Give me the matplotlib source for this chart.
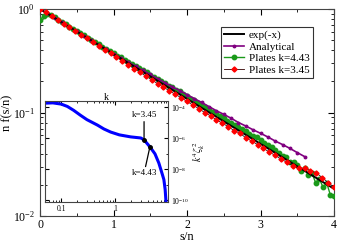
import numpy as np
import matplotlib
matplotlib.use("Agg")
import matplotlib.pyplot as plt
from matplotlib.ticker import LogLocator, NullFormatter, FixedLocator, MultipleLocator

plt.rcParams['font.family'] = ['Liberation Serif', 'DejaVu Serif']
plt.rcParams['mathtext.fontset'] = 'stix'

# ---- data: main panel ----
s_exp = np.linspace(0, 4, 200)

s_analytical = [0.0, 0.1, 0.2, 0.3, 0.4, 0.5, 0.6, 0.7, 0.8, 0.9, 1.0, 1.1, 1.2, 1.3, 1.4, 1.5,
                1.6, 1.7, 1.8, 1.9, 2.0, 2.1, 2.2, 2.3, 2.4, 2.5, 2.6, 2.7, 2.8, 2.9, 3.0, 3.1,
                3.2, 3.3, 3.4, 3.5, 3.6]
f_analytical = [1.0, 0.905, 0.819, 0.741, 0.670, 0.607, 0.549, 0.497, 0.450, 0.408, 0.370, 0.336,
                0.307, 0.280, 0.255, 0.233, 0.212, 0.194, 0.177, 0.163, 0.149, 0.136, 0.125, 0.114,
                0.104, 0.096, 0.088, 0.080, 0.074, 0.068, 0.063, 0.058, 0.053, 0.049, 0.045, 0.041,
                0.0375]

s_green = [0.00, 0.05, 0.10, 0.15, 0.20, 0.25, 0.30, 0.35, 0.40, 0.45, 0.50, 0.55, 0.60, 0.65,
           0.70, 0.75, 0.80, 0.85, 0.90, 0.95, 1.00, 1.05, 1.10, 1.15, 1.20, 1.25, 1.30, 1.35,
           1.40, 1.45, 1.50, 1.55, 1.60, 1.65, 1.70, 1.75, 1.80, 1.85, 1.90, 1.95, 2.00, 2.05,
           2.10, 2.15, 2.20, 2.25, 2.30, 2.35, 2.40, 2.45, 2.50, 2.55, 2.60, 2.65, 2.70, 2.75,
           2.80, 2.85, 2.90, 2.95, 3.00, 3.05, 3.10, 3.15, 3.20, 3.25, 3.30, 3.35, 3.40, 3.45,
           3.50, 3.55, 3.60, 3.65, 3.70, 3.75, 3.80, 3.85, 3.90, 3.95, 4.00]
f_green = [0.78, 0.86, 0.90, 0.87, 0.83, 0.78, 0.75, 0.71, 0.675, 0.64, 0.61, 0.58, 0.555, 0.525,
           0.50, 0.48, 0.455, 0.43, 0.41, 0.39, 0.375, 0.355, 0.34, 0.325, 0.31, 0.295, 0.28, 0.268,
           0.255, 0.245, 0.232, 0.222, 0.212, 0.20, 0.193, 0.182, 0.175, 0.165, 0.16, 0.15, 0.145,
           0.136, 0.131, 0.124, 0.119, 0.112, 0.108, 0.101, 0.098, 0.092, 0.088, 0.083, 0.080,
           0.075, 0.072, 0.069, 0.066, 0.062, 0.059, 0.058, 0.054, 0.051, 0.049, 0.046, 0.043,
           0.041, 0.038, 0.037, 0.033, 0.033, 0.031, 0.027, 0.029, 0.025, 0.026, 0.021, 0.023,
           0.019, 0.021, 0.016, 0.0155]

s_red = [0.00, 0.08, 0.16, 0.24, 0.32, 0.40, 0.48, 0.56, 0.64, 0.72, 0.80, 0.88, 0.96, 1.04,
         1.12, 1.20, 1.28, 1.36, 1.44, 1.52, 1.60, 1.68, 1.76, 1.84, 1.92, 2.00, 2.08, 2.16,
         2.24, 2.32, 2.40, 2.48, 2.56, 2.64, 2.72, 2.80, 2.88, 2.96, 3.04, 3.12, 3.20, 3.28,
         3.36, 3.44, 3.52, 3.60, 3.68, 3.76, 3.84, 3.92, 4.00]
f_red = [1.00, 0.93, 0.85, 0.78, 0.72, 0.665, 0.61, 0.565, 0.52, 0.48, 0.44, 0.405, 0.375, 0.345,
         0.315, 0.29, 0.265, 0.245, 0.225, 0.207, 0.19, 0.176, 0.162, 0.150, 0.139, 0.128, 0.118,
         0.109, 0.100, 0.093, 0.085, 0.079, 0.073, 0.067, 0.063, 0.057, 0.053, 0.049, 0.045,
         0.0415, 0.0385, 0.0355, 0.033, 0.0305, 0.029, 0.029, 0.0275, 0.026, 0.0235, 0.021, 0.019]

# ---- data: inset ----
k_inset = [0.05, 0.07, 0.10, 0.13, 0.17, 0.226, 0.30, 0.47, 0.62, 0.83, 1.2, 1.95, 3.0, 3.45,
           4.43, 5.5, 6.5, 7.5, 8.05, 8.5, 8.8]
logS_inset = [-3.74, -3.72, -3.80, -3.95, -4.2, -4.51, -4.80, -5.15, -5.40, -5.60, -5.78, -5.91,
              -5.98, -6.1, -6.55, -7.0, -7.6, -8.3, -8.66, -9.3, -10.06]
S_inset = [10.0 ** v for v in logS_inset]
k_marks = [3.45, 4.43]
S_marks = [10.0 ** -6.1, 10.0 ** -6.55]
mark_labels = ["k=3.45", "k=4.43"]

W, H = 339, 242
fig = plt.figure(figsize=(W / 100, H / 100), dpi=100)
ax = fig.add_axes([40 / W, 1 - 216 / H, 294 / W, 207 / H])

ax.plot(s_exp, np.exp(-s_exp), color='black', lw=1.4, label='exp(-x)', zorder=5)
ax.plot(s_analytical, f_analytical, color='#800080', lw=1.2, marker='o', ms=1.8,
        label='Analytical', zorder=4)
ax.plot(s_green, f_green, color='#1a9a1a', lw=1.0, marker='o', ms=3.2,
        label='Plates k=4.43', zorder=3)
ax.plot(s_red, f_red, color='#330000', lw=0.6, marker='D', ms=2.6, mfc='red', mec='red',
        label='Plates k=3.45', zorder=6)

ax.set_yscale('log')
ax.set_xlim(0, 4)
ax.set_ylim(0.01, 1)
ax.xaxis.set_major_locator(MultipleLocator(1))
ax.xaxis.set_minor_locator(MultipleLocator(0.5))
ax.tick_params(which='both', direction='in', top=True, right=True, labelsize=8.5)
ax.tick_params(axis='x', pad=2)
ax.tick_params(which='major', length=4)
ax.tick_params(which='minor', length=2)
ax.set_xlabel('s/n', fontsize=9)
ax.xaxis.set_label_coords(0.5, -0.074)
ax.set_ylabel('n f(s/n)', fontsize=9, labelpad=0)
for sp in ax.spines.values():
    sp.set_color('#444444')

leg = ax.legend(loc='upper right', bbox_to_anchor=(313 / W, 1 - 27 / H),
                bbox_transform=fig.transFigure, fontsize=8, frameon=True, fancybox=False,
                edgecolor='black', handlelength=1.8, handletextpad=0.4, borderpad=0.3,
                labelspacing=0.15, borderaxespad=0)
leg.get_frame().set_linewidth(0.8)

# ---- inset ----
ax2 = fig.add_axes([45 / W, 1 - 202 / H, 123 / W, 101 / H])
ax2.plot(k_inset, S_inset, color='blue', lw=2.2, zorder=2)
ax2.plot(k_marks, S_marks, 'o', color='black', ms=2.5, zorder=3)
ax2.set_xscale('log')
ax2.set_yscale('log')
ax2.set_xlim(0.05, 9.6)
ax2.set_ylim(10 ** -10.1, 10 ** -3.6)
ax2.set_xticks([0.1, 1])
ax2.set_xticklabels(['0.1', '1'])
ax2.xaxis.set_minor_locator(LogLocator(base=10, subs=np.arange(2, 10)))
ax2.xaxis.set_minor_formatter(NullFormatter())
ax2.yaxis.set_major_locator(FixedLocator([1e-4, 1e-6, 1e-8, 1e-10]))
ax2.yaxis.set_minor_locator(FixedLocator([1e-5, 1e-7, 1e-9]))
ax2.yaxis.set_minor_formatter(NullFormatter())
ax2.tick_params(which='both', direction='in', top=True, right=True, left=True,
                labelleft=False, labelright=True, labelsize=5.5, pad=2)
ax2.tick_params(which='major', length=3)
ax2.tick_params(which='minor', length=1.5)
ax2.xaxis.set_label_position('top')
ax2.set_xlabel('k', fontsize=7, labelpad=1)
ax2.yaxis.set_label_position('right')
ax2.set_ylabel(r'$k^4\zeta_k^2$', fontsize=7, labelpad=2)
for sp in ax2.spines.values():
    sp.set_color('#444444')

ax2.annotate(mark_labels[0], xy=(k_marks[0], S_marks[0]), xytext=(k_marks[0], 10 ** -4.75),
             ha='center', va='bottom', fontsize=6.5,
             arrowprops=dict(arrowstyle='-', color='black', lw=0.9, shrinkA=0, shrinkB=1))
ax2.annotate(mark_labels[1], xy=(k_marks[1], S_marks[1]), xytext=(k_marks[0], 10 ** -8.0),
             ha='center', va='top', fontsize=6.5,
             arrowprops=dict(arrowstyle='-', color='black', lw=0.9, shrinkA=0, shrinkB=1))

fig.savefig('out.png', dpi=100)
